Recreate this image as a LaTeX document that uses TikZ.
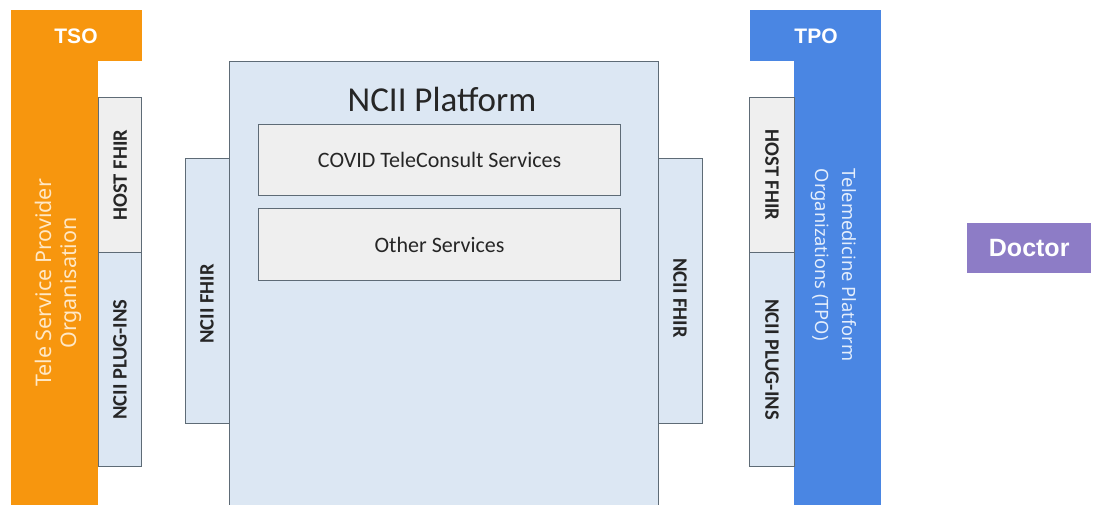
\documentclass[tikz,border=0pt]{standalone}
\usepackage{fontspec}
\setmainfont{Carlito}
\newfontfamily\headfont{Liberation Sans}
\newfontfamily\orgfont{Noto Sans}
\definecolor{tsoorange}{HTML}{F7960E}
\definecolor{tpoblue}{HTML}{4A86E3}
\definecolor{docpurple}{HTML}{8D7CC6}
\definecolor{paleblue}{HTML}{DCE7F3}
\definecolor{palegray}{HTML}{EFEFEF}
\definecolor{edgegray}{HTML}{5E6B76}
\definecolor{tsotext}{HTML}{FFE8C6}
\definecolor{tpotext}{HTML}{E4EEFC}

\begin{document}
\begin{tikzpicture}[x=1pt,y=-1pt,
    block/.style={fill=#1,inner sep=0pt,anchor=north west},
    box/.style={draw=edgegray,line width=1.2pt,fill=#1,inner sep=0pt,anchor=north west},
    head/.style={text=white,font=\headfont\bfseries\fontsize{21}{25}\selectfont},
    tag/.style={font=\bfseries\fontsize{20.5}{24}\selectfont,text=black!85},
    service/.style={font=\fontsize{22}{26}\selectfont,text=black!85}]
    \clip (0,0) rectangle (1094,504);
    \fill[white] (0,0) rectangle (1094,504);

    % left organisation
    \node[block=tsoorange,minimum width=131pt,minimum height=51pt] (tsohead) at (11,10) {};
    \node[block=tsoorange,minimum width=87pt,minimum height=450pt] (tsobar) at (11,58) {};
    \node[head] (tso) at (76,36) {TSO};
    \node[rotate=90,align=center,text=tsotext,font=\orgfont\fontsize{21.5}{25}\selectfont] (tsoname) at (58,283) {Tele Service Provider\\Organisation};
    \node[box=palegray,minimum width=43pt,minimum height=155pt] (lhost) at (98,97) {};
    \node[box=paleblue,minimum width=43pt,minimum height=214pt] (lplug) at (98,252) {};
    \node[tag,rotate=90] (lhosttext) at (lhost.center) {HOST FHIR};
    \node[tag,rotate=90] (lplugtext) at (lplug.center) {NCII PLUG-INS};

    % platform
    \node[box=paleblue,minimum width=45pt,minimum height=265pt] (lfhir) at (185,158) {};
    \node[box=paleblue,minimum width=44pt,minimum height=265pt] (rfhir) at (658,158) {};
    \node[box=paleblue,minimum width=429pt,minimum height=460pt] (ncii) at (229,61) {};
    \node[tag,rotate=90] (lfhirtext) at (207,304) {NCII FHIR};
    \node[tag,rotate=-90] (rfhirtext) at (680,298) {NCII FHIR};
    \node[font=\fontsize{35}{40}\selectfont,text=black!85] (nciititle) at (442,99) {NCII Platform};
    \node[box=palegray,minimum width=362pt,minimum height=71pt] (covid) at (258,124) {};
    \node[box=palegray,minimum width=362pt,minimum height=72pt] (other) at (258,208) {};
    \node[service] (covidtext) at (covid.center) {COVID TeleConsult Services};
    \node[service] (othertext) at (other.center) {Other Services};

    % right organisation
    \node[block=tpoblue,minimum width=131pt,minimum height=51pt] (tpohead) at (750,10) {};
    \node[block=tpoblue,minimum width=87pt,minimum height=450pt] (tpobar) at (794,58) {};
    \node[head] (tpo) at (816,36) {TPO};
    \node[rotate=-90,align=left,text=tpotext,font=\orgfont\fontsize{18.3}{27}\selectfont] (tponame) at (834,265) {Telemedicine Platform\\Organizations (TPO)};
    \node[box=palegray,minimum width=45pt,minimum height=155pt] (rhost) at (749,97) {};
    \node[box=paleblue,minimum width=45pt,minimum height=214pt] (rplug) at (749,252) {};
    \node[tag,rotate=-90] (rhosttext) at (rhost.center) {HOST FHIR};
    \node[tag,rotate=-90] (rplugtext) at (rplug.center) {NCII PLUG-INS};

    % doctor
    \node[block=docpurple,minimum width=124pt,minimum height=50pt] (doctor) at (967,223) {};
    \node[head,font=\headfont\bfseries\fontsize{25}{29}\selectfont] (doctortext) at (doctor.center) {Doctor};
\end{tikzpicture}
\end{document}
